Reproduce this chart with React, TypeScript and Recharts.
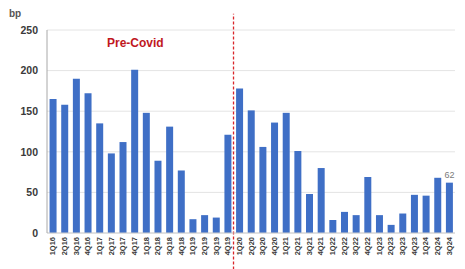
import React from "react";
import { BarChart, Bar, XAxis, YAxis, CartesianGrid, ReferenceLine, LabelList } from "recharts";

const quarters = [
  "1Q16","2Q16","3Q16","4Q16","1Q17","2Q17","3Q17","4Q17","1Q18","2Q18","3Q18","4Q18",
  "1Q19","2Q19","3Q19","4Q19","1Q20","2Q20","3Q20","4Q20","1Q21","2Q21","3Q21","4Q21",
  "1Q22","2Q22","3Q22","4Q22","1Q23","2Q23","3Q23","4Q23","1Q24","2Q24","3Q24",
];
const bpValues = [
  165, 158, 190, 172, 135, 98, 112, 201, 148, 89, 131, 77,
  17, 22, 19, 121, 178, 151, 106, 136, 148, 101, 48, 80,
  16, 26, 22, 69, 22, 10, 24, 47, 46, 68, 62,
];
const yTicks = [0, 50, 100, 150, 200, 250];
const covidStart = "1Q20";

const data = quarters.map((q, i) => ({
  q,
  v: bpValues[i],
  lbl: i === quarters.length - 1 ? String(bpValues[i]) : "",
}));

const XTick = (props: any) => {
  const { x, y, payload } = props;
  return (
    <text
      x={x}
      y={y}
      transform={`rotate(-90, ${x}, ${y})`}
      textAnchor="end"
      dominantBaseline="central"
      fontSize={7.5}
      fontWeight="bold"
      fill="#3a3a3a"
      fontFamily="Liberation Sans, Arial, sans-serif"
    >
      {payload.value}
    </text>
  );
};

export default function App() {
  return (
    <div style={{ position: "absolute", left: 0, top: 0, width: 465, height: 269, background: "#fff" }}>
      <BarChart
        width={465}
        height={269}
        data={data}
        margin={{ top: 30, right: 10, left: 0, bottom: 0 }}
        barCategoryGap="22%"
      >
        <CartesianGrid vertical={false} stroke="#e4e4e4" />
        <XAxis
          dataKey="q"
          interval={0}
          height={36}
          tick={<XTick />}
          tickLine={false}
          tickSize={0}
          tickMargin={4}
          axisLine={{ stroke: "#d0d0d0" }}
        />
        <YAxis
          width={47}
          domain={[0, 250]}
          ticks={yTicks}
          tickLine={false}
          tickSize={0}
          tickMargin={9}
          axisLine={{ stroke: "#a8a8a8" }}
          tick={{ fontSize: 10.5, fontWeight: "bold", fill: "#3a3a3a", fontFamily: "Liberation Sans, Arial, sans-serif" }}
        />
        <Bar dataKey="v" fill="#3f6fc6" isAnimationActive={false}>
          <LabelList dataKey="lbl" position="top" fontSize={9} fill="#7a7a7a" offset={5} fontFamily="Liberation Sans, Arial, sans-serif" />
        </Bar>
        <ReferenceLine
          segment={[{ x: covidStart, y: -45 }, { x: covidStart, y: 270 }]}
          position="start"
          ifOverflow="visible"
          stroke="#d9262b"
          strokeWidth={1.3}
          strokeDasharray="3 2"
        />
      </BarChart>
      <div style={{ position: "absolute", left: 9, top: 8, fontSize: 10, fontWeight: "bold", color: "#555", fontFamily: "Liberation Sans, Arial, sans-serif" }}>bp</div>
      <div style={{ position: "absolute", left: 107, top: 36, fontSize: 12, fontWeight: "bold", color: "#c0171e", fontFamily: "Liberation Sans, Arial, sans-serif" }}>Pre-Covid</div>
    </div>
  );
}
